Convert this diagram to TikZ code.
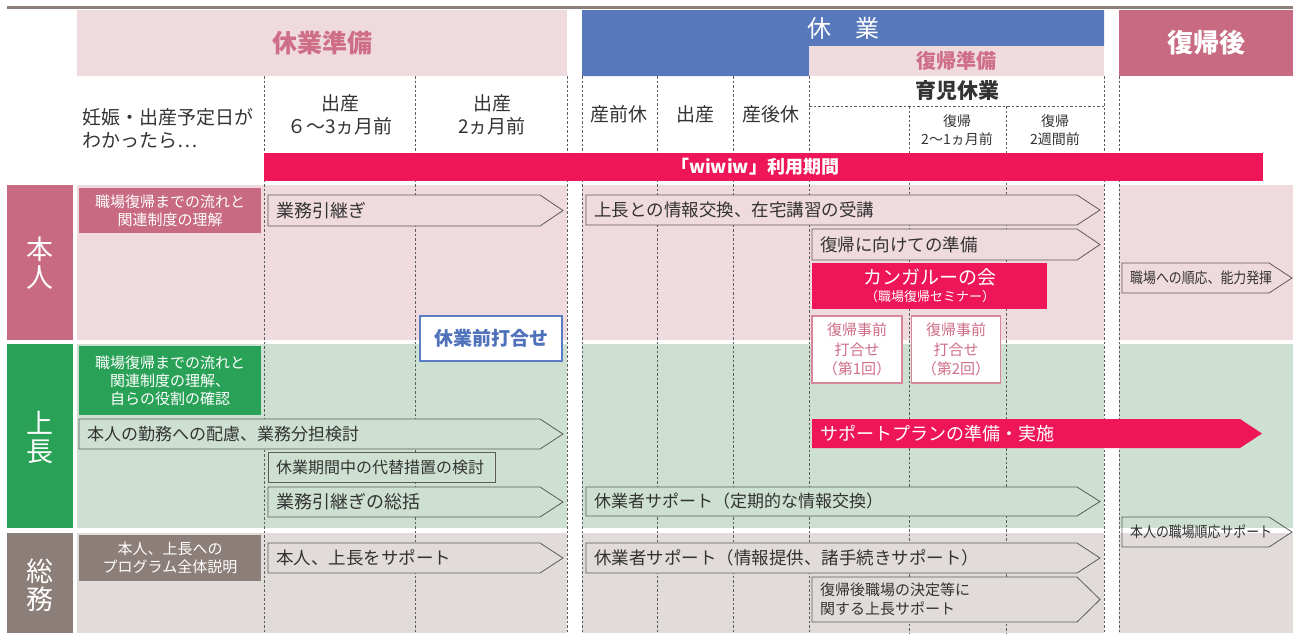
\documentclass[tikz,border=0pt]{standalone}
\usepackage{fontspec}
\setmainfont{Noto Sans CJK JP}
\newfontfamily\cjknarrow[FakeStretch=0.86]{Noto Sans CJK JP}
\definecolor{pkbg}{HTML}{EFDADD}
\definecolor{pktx}{HTML}{CF6E88}
\definecolor{bluehd}{HTML}{5878BC}
\definecolor{rose}{HTML}{C76A82}
\definecolor{grn}{HTML}{29A257}
\definecolor{grnbg}{HTML}{CDE0D1}
\definecolor{brn}{HTML}{8C7E79}
\definecolor{brnbg}{HTML}{E1DCD9}
\definecolor{hotred}{HTML}{EE1659}
\definecolor{txt}{HTML}{333333}
\definecolor{olin}{HTML}{5C5C5C}
\definecolor{bluebox}{HTML}{5B7DC5}
\definecolor{bluetx}{HTML}{4F72BA}
\definecolor{pkbox}{HTML}{D8869A}
\newcommand{\fsz}[2]{\fontsize{#1}{#2}\selectfont}
% name, x1, y1, x2, y2, fill, font, text
\newcommand{\parr}[8]{%
  \draw[arrline, fill=#6] (#2,#3) -- ({#4-23},#3) -- (#4,{(#3+#5)/2}) -- ({#4-23},#5) -- (#2,#5) -- cycle;
  \node[atext, font={#7}] (#1) at ({#2+8},{(#3+#5)/2}) {#8};}
\begin{document}
\begin{tikzpicture}[x=1pt,y=-1pt,
  vline/.style={olin, dash pattern=on 2.5pt off 2pt, line width=0.6pt},
  arrline/.style={draw=olin, line width=0.8pt},
  atext/.style={anchor=west, inner sep=0pt, text=txt, align=left},
  plab/.style={text=txt, align=center, inner sep=0pt, font={\fsz{19}{23}}},
  rowlab/.style={text=white, align=center, inner sep=0pt, font={\fsz{27}{28}}},
  sublab/.style={text=white, align=center, inner sep=0pt, minimum width=182pt, font={\fsz{15}{18}}},
  pkmeet/.style={draw=pkbox, line width=1.5pt, fill=white, text=pktx, align=center, inner sep=0pt, font={\fsz{15}{19.5}}}
]
\useasboundingbox (0,0) rectangle (1300,633);
% top rule
\draw[brn, line width=3pt] (7,7.5) -- (1293,7.5);
% headers
\fill[pkbg] (77,10) rectangle (567,76);
\node[text=pktx, font={\fsz{25}{30}\bfseries}] (hdA) at (322,43) {休業準備};
\fill[bluehd] (582,10) -- (1104,10) -- (1104,46) -- (809,46) -- (809,76) -- (582,76) -- cycle;
\fill[pkbg] (809,46) rectangle (1104,76);
\node[text=white, font={\fsz{24}{28}}] (hdB) at (843,28) {休　業};
\node[text=pktx, font={\fsz{20}{24}\bfseries}] (hdC) at (956,61) {復帰準備};
\fill[rose] (1119,10) rectangle (1293,76);
\node[text=white, font={\fsz{26}{30}\bfseries}] (hdD) at (1206,43) {復帰後};
% row backgrounds
\foreach \a/\b in {77/567, 582/1104, 1119/1293} {
  \fill[pkbg] (\a,185) rectangle (\b,340);
  \fill[grnbg] (\a,344) rectangle (\b,528);
  \fill[brnbg] (\a,533) rectangle (\b,633);
}
% dashed grid
\foreach \x in {264,415,567,582,657,733,809,1104,1119} \draw[vline] (\x,76) -- (\x,633);
\foreach \x in {909,1006} \draw[vline] (\x,106) -- (\x,633);
\draw[vline] (809,106) -- (1104,106);
% period labels
\node[plab, anchor=west, align=left] (p0) at (82,129) {妊娠・出産予定日が\\わかったら⋯};
\node[plab] (p1) at (340,115) {出産\\６〜3ヵ月前};
\node[plab] (p2) at (492,115) {出産\\2ヵ月前};
\node[plab] (p3) at (619,114) {産前休};
\node[plab] (p4) at (695,114) {出産};
\node[plab] (p5) at (771,114) {産後休};
\node[plab, font={\fsz{21}{24}\bfseries}] (p6) at (957,91) {育児休業};
\node[plab, font={\fsz{14}{18}}] (p7) at (957,130) {復帰\\2〜1ヵ月前};
\node[plab, font={\fsz{14}{18}}] (p8) at (1055,130) {復帰\\2週間前};
% wiwiw bar
\fill[hotred] (264,153) rectangle (1263,181);
\node[text=white, font={\fsz{18}{22}\bfseries}] (bar) at (755,167) {「wiwiw」利用期間};
% row labels
\fill[rose] (7,185) rectangle (73,340);
\node[rowlab] (r1) at (40,263) {本\\人};
\fill[grn] (7,344) rectangle (73,528);
\node[rowlab] (r2) at (40,437) {上\\長};
\fill[brn] (7,533) rectangle (73,633);
\node[rowlab] (r3) at (40,585) {総\\務};
% sub labels
\node[sublab, fill=rose, minimum height=45pt] (s1) at (170,210.5) {職場復帰までの流れと\\関連制度の理解};
\node[sublab, fill=grn, minimum height=69pt] (s2) at (170,380.5) {職場復帰までの流れと\\関連制度の理解、\\自らの役割の確認};
\node[sublab, fill=brn, minimum height=46pt] (s3) at (170,558) {本人、上長への\\プログラム全体説明};
% honnin row
\parr{a1}{268}{195}{563}{226}{pkbg}{\fsz{18}{21}}{業務引継ぎ}
\parr{a2}{586}{195}{1100}{225}{pkbg}{\fsz{17.5}{21}}{上長との情報交換、在宅講習の受講}
\parr{a3}{812}{229}{1100}{260}{pkbg}{\fsz{17.5}{21}}{復帰に向けての準備}
\fill[hotred] (812,263) rectangle (1047,309);
\node[text=white, inner sep=0pt, font={\fsz{19}{22}}] (k1) at (930,277) {カンガルーの会};
\node[text=white, inner sep=0pt, font={\fsz{13}{16}}] (k2) at (930,297) {（職場復帰セミナー）};
\parr{a4}{1122}{263}{1292}{293}{pkbg}{\cjknarrow\fsz{15}{17}}{職場への順応、能力発揮}
% meetings
\node[draw=bluebox, line width=1.5pt, fill=white, minimum width=142pt, minimum height=45pt, inner sep=0pt, text=bluetx, font={\fsz{19}{22}\bfseries}] (m0) at (491,338.5) {休業前打合せ};
\node[pkmeet, minimum width=90pt, minimum height=67pt] (m1) at (857,349.5) {復帰事前\\打合せ\\（第1回）};
\node[pkmeet, minimum width=89pt, minimum height=67pt] (m2) at (956,349.5) {復帰事前\\打合せ\\（第2回）};
% joucho row
\parr{b1}{79}{419}{563}{449}{grnbg}{\fsz{17}{21}}{本人の勤務への配慮、業務分担検討}
\draw[arrline, fill=grnbg] (268,452) rectangle (495,482);
\node[atext, font={\fsz{16}{20}}] (b2) at (276,467) {休業期間中の代替措置の検討};
\parr{b3}{268}{487}{563}{517}{grnbg}{\fsz{18}{21}}{業務引継ぎの総括}
\fill[hotred] (812,419) -- (1240,419) -- (1262,433.5) -- (1240,448) -- (812,448) -- cycle;
\node[atext, text=white, font={\fsz{18}{21}}] (b6) at (820,433.5) {サポートプランの準備・実施};
\parr{b4}{586}{487}{1100}{516}{grnbg}{\fsz{17}{21}}{休業者サポート（定期的な情報交換）}
\parr{b5}{1122}{517}{1292}{547}{none}{\cjknarrow\fsz{15}{17}}{本人の職場順応サポート}
% soumu row
\parr{c1}{268}{543}{563}{573}{brnbg}{\fsz{17.5}{21}}{本人、上長をサポート}
\parr{c2}{586}{543}{1100}{573}{brnbg}{\fsz{17.5}{21}}{休業者サポート（情報提供、諸手続きサポート）}
\parr{c3}{812}{577}{1100}{622}{brnbg}{\fsz{15}{19}}{復帰後職場の決定等に\\関する上長サポート}
\end{tikzpicture}
\end{document}
